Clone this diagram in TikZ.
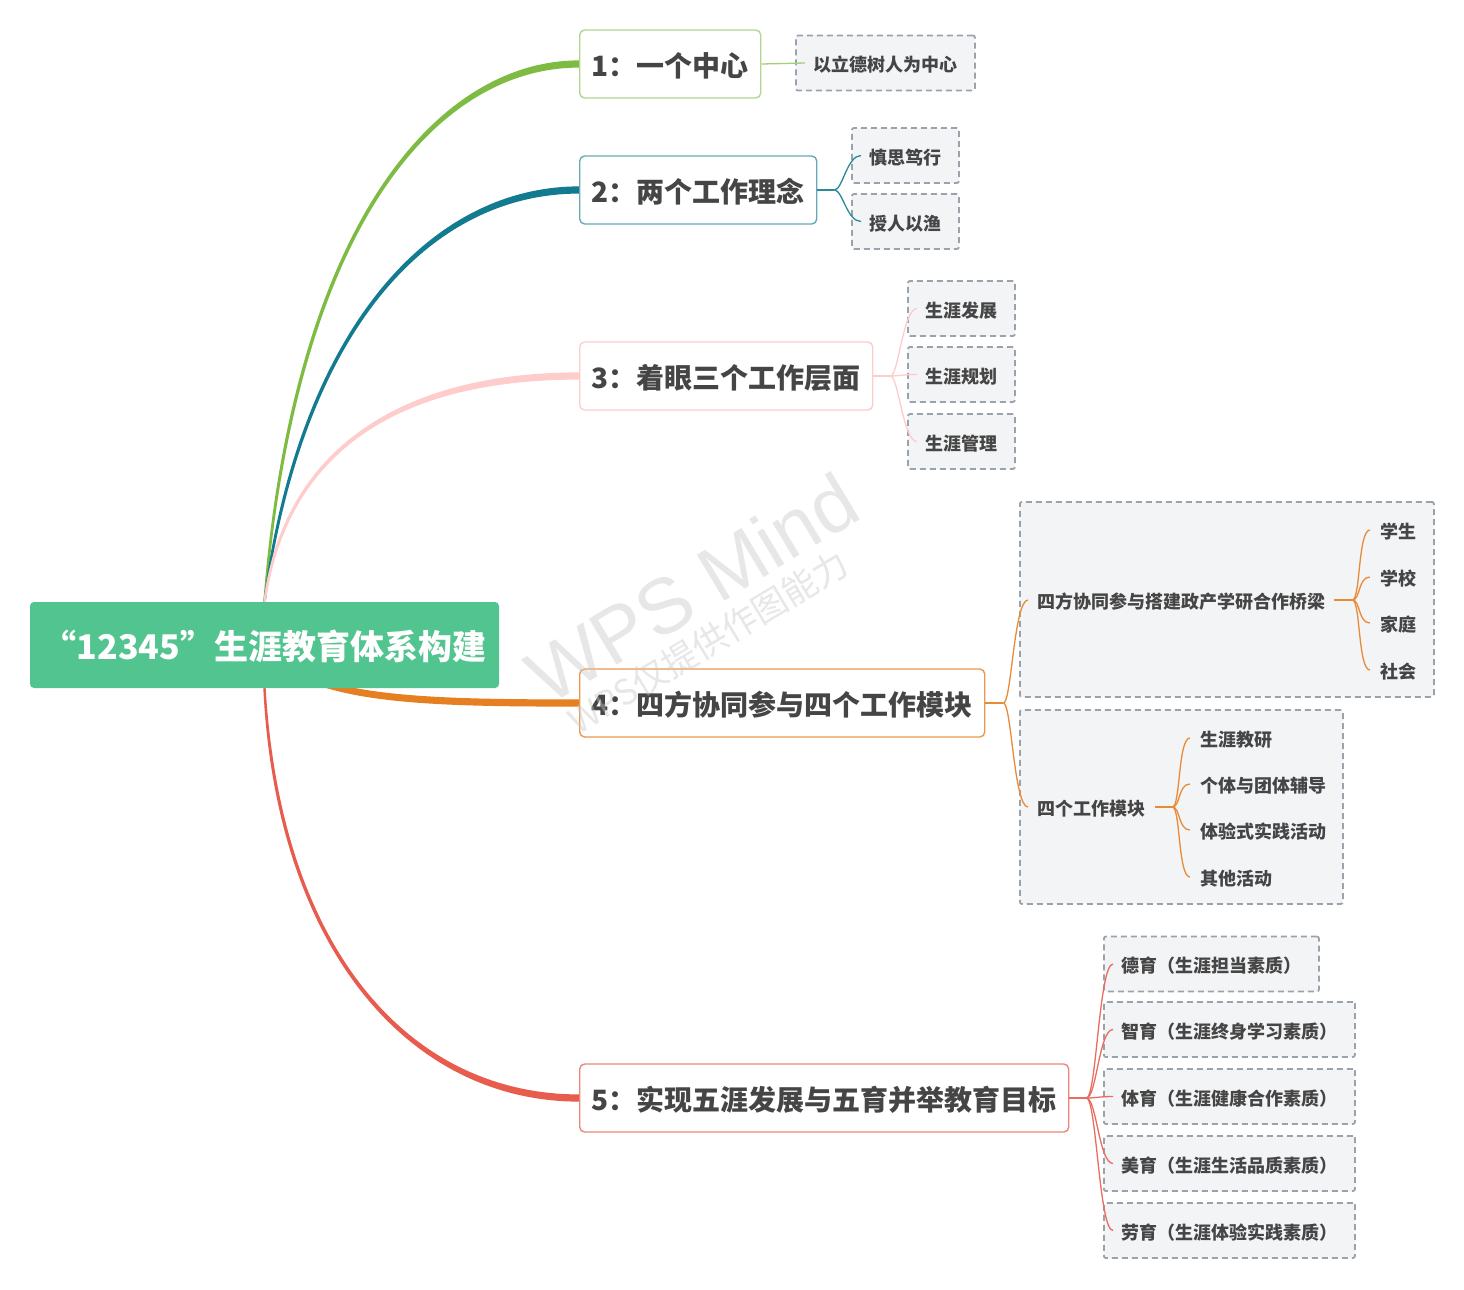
\documentclass[tikz,border=0pt]{standalone}
\usepackage{fontspec}
\setmainfont{Noto Sans CJK SC}
\newfontfamily\wmfont{Liberation Sans}
\usetikzlibrary{backgrounds}
\definecolor{rootg}{HTML}{52C48F}
\definecolor{txt}{HTML}{454545}
\definecolor{cA}{HTML}{7DBB42}
\definecolor{cB}{HTML}{137B8F}
\definecolor{cC}{HTML}{FFCCCC}
\definecolor{cD}{HTML}{E67E22}
\definecolor{cE}{HTML}{E85C4E}
\definecolor{leaff}{HTML}{F3F4F6}
\definecolor{leafb}{HTML}{9CA2AC}
\begin{document}
\begin{tikzpicture}[x=1pt,y=-1pt,
 rootbox/.style={fill=rootg, rounded corners=4pt, minimum width=469pt, minimum height=86pt, text=white, font=\bfseries\fontsize{34}{40}\selectfont, inner sep=0pt, text height=31pt, text depth=1.7pt},
 mainbox/.style={draw=#1, fill=white, line width=1.4pt, rounded corners=5pt, minimum height=68pt, inner xsep=12pt, inner ysep=0pt, anchor=west, text=txt, font=\bfseries\fontsize{28}{34}\selectfont, text height=26.4pt, text depth=1.4pt},
 leafbox/.style={draw=leafb, fill=leaff, line width=1.8pt, dash pattern=on 6pt off 4pt, rounded corners=2pt, minimum height=55pt, inner xsep=17.5pt, inner ysep=0pt, anchor=west, text=txt, font=\bfseries\fontsize{18}{22}\selectfont, text height=18.4pt, text depth=0.9pt},
 groupbox/.style={draw=leafb, fill=leaff, line width=1.8pt, dash pattern=on 6pt off 4pt, rounded corners=2pt, anchor=north west, inner sep=0pt},
 subtext/.style={anchor=west, inner sep=0pt, text=txt, font=\bfseries\fontsize{18}{22}\selectfont, text height=18.4pt, text depth=0.9pt},
 conn/.style={draw=#1, line width=1.3pt},
 wm/.style={rotate=31, text=black!22, text opacity=0.42, inner sep=0pt},
]
\useasboundingbox (0,0) rectangle (1464,1290);

% root and main topics
\node[rootbox] (root) at (264.5,645) {“12345”生涯教育体系构建};
\node[mainbox=cA!60] (b1) at (579,64) {1：一个中心};
\node[mainbox=cB!65] (b2) at (579,190) {2：两个工作理念};
\node[mainbox=cC] (b3) at (579,376) {3：着眼三个工作层面};
\node[mainbox=cD!80] (b4) at (579,703) {4：四方协同参与四个工作模块};
\node[mainbox=cE!75] (b5) at (579,1098) {5：实现五涯发展与五育并举教育目标};

% leaves
\node[leafbox] (l11) at (795,63) {以立德树人为中心};
\node[leafbox] (l21) at (851,155.5) {慎思笃行};
\node[leafbox] (l22) at (851,221.5) {授人以渔};
\node[leafbox] (l31) at (907,308.5) {生涯发展};
\node[leafbox] (l32) at (907,374.5) {生涯规划};
\node[leafbox] (l33) at (907,441.5) {生涯管理};
\node[leafbox] (l51) at (1103,964) {德育（生涯担当素质）};
\node[leafbox] (l52) at (1103,1029.5) {智育（生涯终身学习素质）};
\node[leafbox] (l53) at (1103,1096.5) {体育（生涯健康合作素质）};
\node[leafbox] (l54) at (1103,1163.5) {美育（生涯生活品质素质）};
\node[leafbox] (l55) at (1103,1230.5) {劳育（生涯体验实践素质）};

% groups of branch 4
\node[groupbox, minimum width=414pt, minimum height=195pt] (g1) at (1019,501) {};
\node[groupbox, minimum width=323pt, minimum height=194pt] (g2) at (1019,709) {};
\node[subtext] (t41) at (1037,600) {四方协同参与搭建政产学研合作桥梁};
\node[subtext] (s1) at (1380,530) {学生};
\node[subtext] (s2) at (1380,577) {学校};
\node[subtext] (s3) at (1380,623) {家庭};
\node[subtext] (s4) at (1380,670) {社会};
\node[subtext] (t42) at (1037,807) {四个工作模块};
\node[subtext] (m1) at (1200,738) {生涯教研};
\node[subtext] (m2) at (1200,784) {个体与团体辅导};
\node[subtext] (m3) at (1200,830) {体验式实践活动};
\node[subtext] (m4) at (1200,877) {其他活动};

% main branches
\begin{scope}[on background layer]
\fill[white] (0,0) rectangle (1464,1290);
\fill[cA] ([xshift=-1.2pt]root.north) .. controls (293,220) and (440,60.4) .. ([yshift=3.6pt]b1.west)
  -- ([yshift=-3.6pt]b1.west) .. controls (440,67.6) and (298,220) .. ([xshift=1.2pt]root.north) -- cycle;
\fill[cB] ([xshift=-1.2pt]root.north) .. controls (298,330) and (430,186.4) .. ([yshift=3.6pt]b2.west)
  -- ([yshift=-3.6pt]b2.west) .. controls (430,193.6) and (303,330) .. ([xshift=1.2pt]root.north) -- cycle;
\fill[cC] ([xshift=-1.2pt]root.north) .. controls (283,450) and (400,372.4) .. ([yshift=3.6pt]b3.west)
  -- ([yshift=-3.6pt]b3.west) .. controls (400,379.6) and (288,450) .. ([xshift=1.2pt]root.north) -- cycle;
\fill[cD] ([yshift=3pt]root.center) .. controls (300,697) and (420,699.4) .. ([yshift=3.6pt]b4.west)
  -- ([yshift=-3.6pt]b4.west) .. controls (420,706.6) and (300,704) .. ([yshift=-3pt]root.center) -- cycle;
\fill[cE] ([xshift=-1.2pt]root.south) .. controls (276,950) and (410,1101.6) .. ([yshift=-3.6pt]b5.west)
  -- ([yshift=3.6pt]b5.west) .. controls (410,1094.4) and (281,950) .. ([xshift=1.2pt]root.south) -- cycle;
\end{scope}

% sub connectors
\draw[conn=cA!70] (b1.east) -- ([xshift=10pt]l11.west);
\draw[conn=cB!90] (b2.east) -- ++(17,0) coordinate (f2);
\foreach \n in {l21,l22} \draw[conn=cB!90] (f2) .. controls +(8,0) and +(-14,0) .. ([xshift=10pt]\n.west);
\draw[conn=cC] (b3.east) -- ++(17,0) coordinate (f3);
\foreach \n in {l31,l32,l33} \draw[conn=cC] (f3) .. controls +(8,0) and +(-14,0) .. ([xshift=10pt]\n.west);
\draw[conn=cD!90] (b4.east) -- ++(18,0) coordinate (f4);
\foreach \n in {t41,t42} \draw[conn=cD!90] (f4) .. controls +(8,0) and +(-14,0) .. ([xshift=-9pt]\n.west);
\draw[conn=cD!90] ([xshift=9pt]t41.east) -- ++(18,0) coordinate (f41);
\foreach \n in {s1,s2,s3,s4} \draw[conn=cD!90] (f41) .. controls +(8,0) and +(-12,0) .. ([xshift=-10pt]\n.west);
\draw[conn=cD!90] ([xshift=10pt]t42.east) -- ++(17,0) coordinate (f42);
\foreach \n in {m1,m2,m3,m4} \draw[conn=cD!90] (f42) .. controls +(8,0) and +(-12,0) .. ([xshift=-10pt]\n.west);
\draw[conn=cE!90] (b5.east) -- ++(17,0) coordinate (f5);
\foreach \n in {l51,l52,l53,l54,l55} \draw[conn=cE!90] (f5) .. controls +(10,0) and +(-14,0) .. ([xshift=10pt]\n.west);

% watermark
\node[wm, font=\wmfont\fontsize{78}{82}\selectfont] (wm1) at (692,588) {WPS Mind};
\node[wm, font=\fontsize{35}{40}\selectfont] (wm2) at (708,642) {WPS仅提供作图能力};
\end{tikzpicture}
\end{document}
